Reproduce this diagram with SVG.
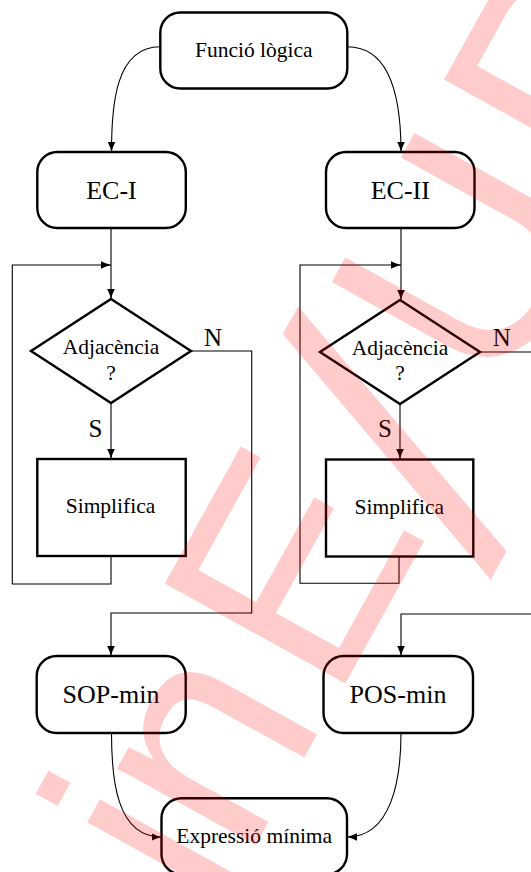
<svg xmlns="http://www.w3.org/2000/svg" width="531" height="872" viewBox="0 0 531 872">
<style>
.node{fill:#fff;stroke:#000;stroke-width:2.4}
.conn{fill:none;stroke:#000;stroke-width:1.1}
.t{font-family:"Liberation Serif",serif;fill:#000;text-anchor:middle}
.big{font-size:26px}
.mid{font-size:21.5px}
.lbl{font-size:25px}
.wm{font-family:"Liberation Sans",sans-serif;font-size:300px;fill:#ff0000;fill-opacity:0.2}
</style>
<defs>
<marker id="arr" viewBox="0 0 10 8" refX="10" refY="4" markerWidth="10" markerHeight="8" markerUnits="userSpaceOnUse" orient="auto">
<path d="M0,0.2 Q5,2.8 10,4 Q5,5.2 0,7.8 Z" fill="#000"/>
</marker>
</defs>
<rect width="531" height="872" fill="#fff"/>
<g id="connectors">
<path class="conn" d="M160.3,46.7 C114.9,46.7 111.5,106.6 111.5,152" marker-end="url(#arr)"/>
<path class="conn" d="M347.3,46.7 C393.5,46.7 401,105.8 401,152" marker-end="url(#arr)"/>
<path class="conn" d="M111,228 V299" marker-end="url(#arr)"/>
<path class="conn" d="M111,556 V584 H12.3 V265 H111" marker-end="url(#arr)"/>
<path class="conn" d="M111,403 V459" marker-end="url(#arr)"/>
<path class="conn" d="M191,351 H251.7 V613 H111 V656" marker-end="url(#arr)"/>
<path class="conn" d="M401,228 V300" marker-end="url(#arr)"/>
<path class="conn" d="M399,556 V583.3 H300 V265 H401" marker-end="url(#arr)"/>
<path class="conn" d="M400,404 V459" marker-end="url(#arr)"/>
<path class="conn" d="M480,352 H531"/>
<path class="conn" d="M531,614 H401 V656" marker-end="url(#arr)"/>
<path class="conn" d="M111.5,733 C111.5,778 116,837 161.5,837" marker-end="url(#arr)"/>
<path class="conn" d="M401,733 C401,778 392,837 347,837" marker-end="url(#arr)"/>
</g>
<g id="n-funcio">
<rect class="node" x="160.3" y="12.5" width="187" height="76" rx="20"/>
<text class="t mid" x="253.8" y="57">Funció lògica</text>
</g>
<g id="n-eci">
<rect class="node" x="37.3" y="152" width="148.5" height="76" rx="20"/>
<text class="t big" x="111.5" y="199.3">EC-I</text>
</g>
<g id="n-ecii">
<rect class="node" x="326" y="152" width="148.5" height="76" rx="20"/>
<text class="t big" x="400.3" y="199.3">EC-II</text>
</g>
<g id="n-adj1">
<path class="node" d="M111,299 L191,351 L111,403 L31,351 Z"/>
<text class="t mid" x="111" y="354">Adjacència</text>
<text class="t mid" x="111" y="380">?</text>
</g>
<g id="n-adj2">
<path class="node" d="M400,300 L480,352 L400,404 L320,352 Z"/>
<text class="t mid" x="400" y="355">Adjacència</text>
<text class="t mid" x="400" y="380">?</text>
</g>
<g id="n-simp1">
<rect class="node" x="37.3" y="459" width="148.4" height="97"/>
<text class="t mid" x="110.5" y="513">Simplifica</text>
</g>
<g id="n-simp2">
<rect class="node" x="326" y="459.5" width="147.3" height="97"/>
<text class="t mid" x="399.3" y="513.5">Simplifica</text>
</g>
<g id="labels">
<text class="t lbl" x="213" y="346">N</text>
<text class="t lbl" x="95.5" y="437">S</text>
<text class="t lbl" x="501.7" y="345.5">N</text>
<text class="t lbl" x="385" y="437">S</text>
</g>
<g id="n-sop">
<rect class="node" x="36.7" y="656" width="149" height="77" rx="20"/>
<text class="t big" x="111" y="703.3">SOP-min</text>
</g>
<g id="n-pos">
<rect class="node" x="323.5" y="656" width="149.5" height="77" rx="20"/>
<text class="t big" x="398" y="703.3">POS-min</text>
</g>
<g id="n-expr">
<rect class="node" x="161.5" y="798.3" width="185.5" height="76" rx="20"/>
<text class="t mid" x="254.2" y="842.5">Expressió mínima</text>
</g>
<g id="watermark">
<text class="wm" transform="translate(345,684) rotate(-61)" x="-266 -205 -24" y="0">inE</text>
<text class="wm" transform="translate(345,684) rotate(-61) skewX(-6)" x="170" y="73" style="font-size:410px">/</text>
<text class="wm" transform="translate(345,684) rotate(-61)" x="322 552" y="0">UP</text>
</g>
</svg>
